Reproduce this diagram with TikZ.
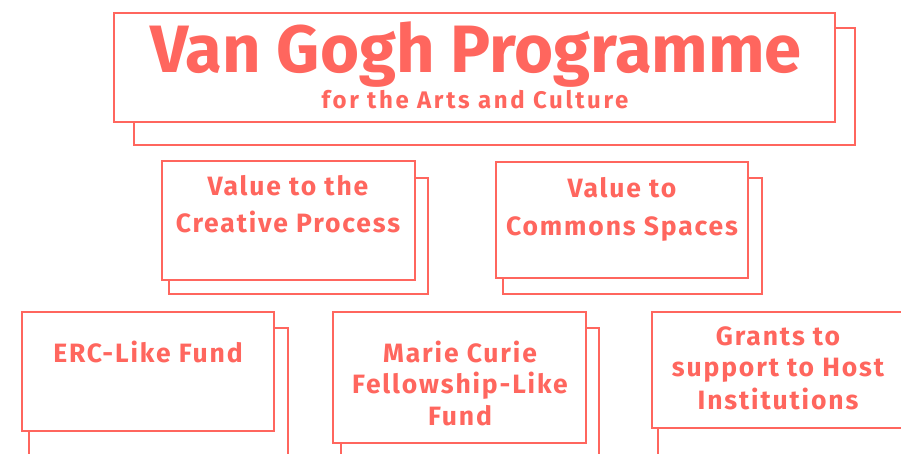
\documentclass[tikz,border=0pt]{standalone}
\usepackage{fontspec}
\setmainfont{Fira Sans}
\newfontfamily\lblfam[LetterSpace=7]{Fira Sans}
\newfontfamily\subfam[LetterSpace=11]{Fira Sans}
\definecolor{coral}{RGB}{255,102,94}
\begin{document}
\begin{tikzpicture}[x=1pt,y=-1pt,
  shadowbox/.style={draw=coral,line width=1.4pt},
  frontbox/.style={draw=coral,line width=1.4pt,fill=white,rectangle,inner sep=0pt,outer sep=0pt,anchor=north west},
  lbl/.style={text=coral,font=\lblfam\bfseries\fontsize{26.5}{30}\selectfont,inner sep=0pt,anchor=base},
  titlefont/.style={text=coral,font=\bfseries\fontsize{67}{70}\selectfont,inner sep=0pt,anchor=base},
  subfont/.style={text=coral,font=\subfam\bfseries\fontsize{24}{26}\selectfont,inner sep=0pt,anchor=base}]
\useasboundingbox (0,0) rectangle (901,453);
\clip (0,0) rectangle (901,453);
% title
\draw[shadowbox] (134,28) rectangle (855,145);
\node[frontbox,minimum width=721pt,minimum height=109pt] (tbox) at (114,13) {};
\node[titlefont] (title) at (476,72) {Van Gogh Programme};
\node[subfont] (sub) at (475,108) {for the Arts and Culture};
% creative process
\draw[shadowbox] (169,178) rectangle (428,294);
\node[frontbox,minimum width=253pt,minimum height=119pt] (cp) at (162,161) {};
\node[lbl] (cpa) at (288,195) {Value to the};
\node[lbl] (cpb) at (288,232) {Creative Process};
% commons spaces
\draw[shadowbox] (503,178) rectangle (762,294);
\node[frontbox,minimum width=252pt,minimum height=116pt] (cs) at (496,162) {};
\node[lbl] (csa) at (622,197) {Value to};
\node[lbl] (csb) at (622,235) {Commons Spaces};
% ERC
\draw[shadowbox] (29,328) rectangle (288,480);
\node[frontbox,minimum width=252pt,minimum height=119pt] (erc) at (22,312) {};
\node[lbl] (erca) at (148,362) {ERC-Like Fund};
% Marie Curie
\draw[shadowbox] (341,328) rectangle (599,480);
\node[frontbox,minimum width=253pt,minimum height=131pt] (mc) at (333,312) {};
\node[lbl] (mca) at (460,362) {Marie Curie};
\node[lbl] (mcb) at (460,393) {Fellowship-Like};
\node[lbl] (mcc) at (460,425) {Fund};
% Grants
\draw[shadowbox] (658,328) rectangle (930,480);
\node[frontbox,minimum width=270pt,minimum height=116pt] (gr) at (652,312) {};
\node[lbl] (gra) at (778,345) {Grants to};
\node[lbl] (grb) at (778,376) {support to Host};
\node[lbl] (grc) at (778,409) {Institutions};
\end{tikzpicture}
\end{document}
